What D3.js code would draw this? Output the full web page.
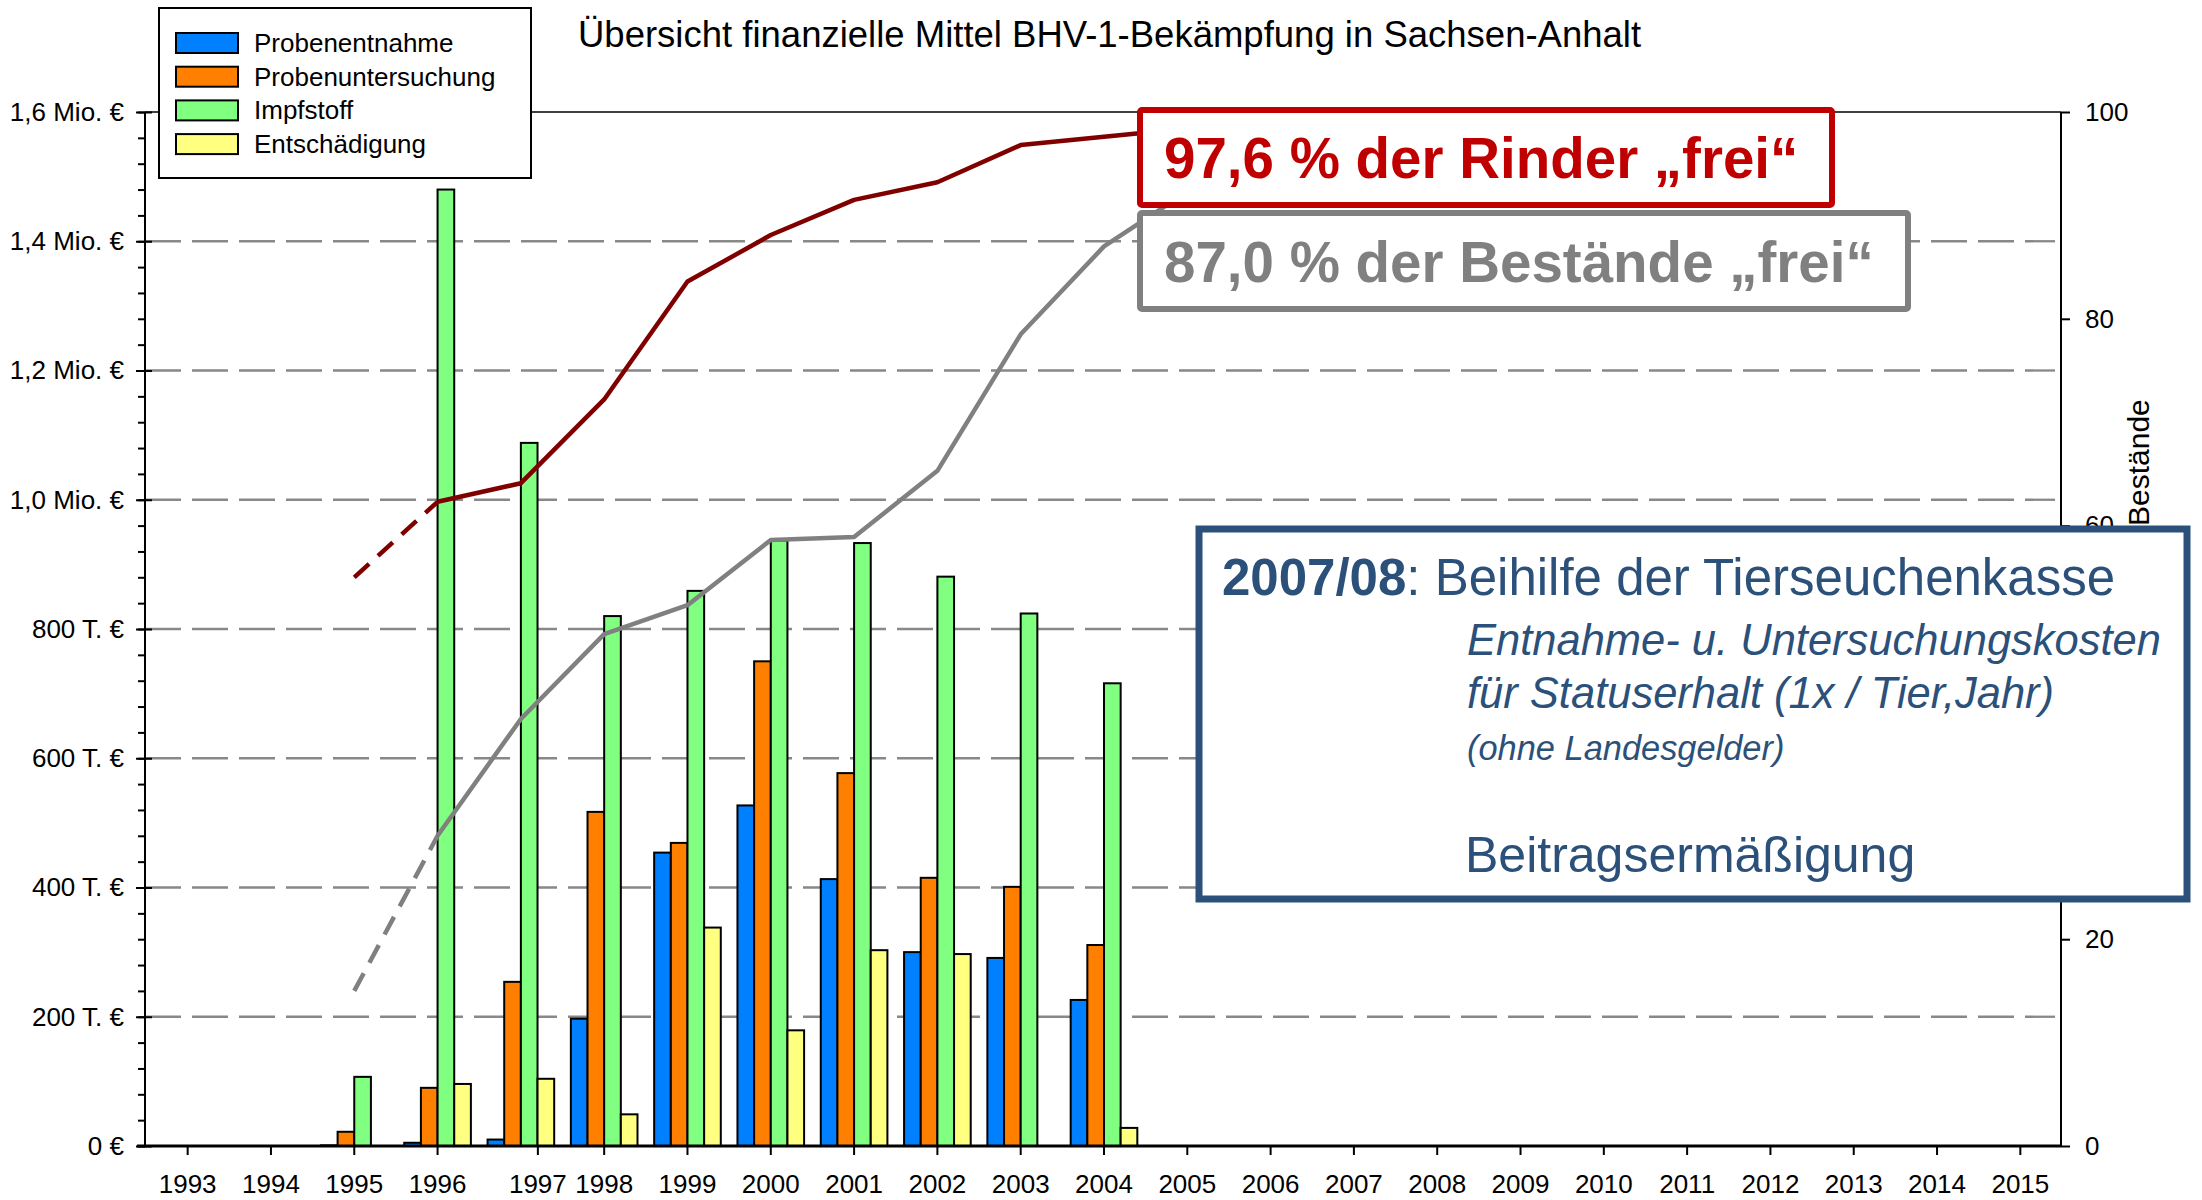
<!DOCTYPE html>
<html>
<head>
<meta charset="utf-8">
<script src="https://cdn.jsdelivr.net/npm/d3@7"></script>
<style>
  html, body { margin: 0; padding: 0; background: #fff; }
  svg { display: block; font-family: "Liberation Sans", Arial, Helvetica, sans-serif; }
</style>
</head>
<body>
<svg id="chart" width="2202" height="1200"></svg>
<script>
// categories
const years = ['1993','1994','1995','1996','1997','1998','1999','2000','2001','2002','2003','2004',
  '2005','2006','2007','2008','2009','2010','2011','2012','2013','2014','2015'];
const barYears = ['1993','1994','1995','1996','1997','1998','1999','2000','2001','2002','2003','2004'];

// costs in thousand euro
const probenentnahme    = [0, 0, 1, 5, 10, 197, 454, 527, 413, 300, 291, 226];
const probenuntersuchung = [0, 0, 22, 90, 254, 517, 469, 750, 577, 415, 401, 311];
const impfstoff         = [0, 0, 107, 1480, 1088, 820, 859, 937, 933, 881, 824, 716];
const entschaedigung    = [0, 0, 0, 96, 104, 49, 338, 179, 303, 297, 0, 28];

const seriesNames = ['Probenentnahme', 'Probenuntersuchung', 'Impfstoff', 'Entschädigung'];
const seriesColors = ['#0080ff', '#ff8000', '#80ff80', '#ffff80'];

// share of free animals / herds in percent
const lineYears = ['1995','1996','1997','1998','1999','2000','2001','2002','2003','2004','2005'];
const rinderFrei    = [55.0, 62.3, 64.1, 72.2, 83.6, 88.1, 91.5, 93.2, 96.8, 97.6, 98.4];
const bestaendeFrei = [15.0, 30.0, 41.3, 49.5, 52.3, 58.6, 58.9, 65.3, 78.5, 87.0, 92.3];

const leftTicks = [0, 200, 400, 600, 800, 1000, 1200, 1400, 1600];
const rightTicks = [0, 20, 40, 60, 80, 100];

const svg = d3.select('#chart');
const pLeft = 145, pRight = 2061, pTop = 112, pBottom = 1146;

const x = d3.scaleBand().domain(years).range([146, 2062]).padding(0);
const cx = d => x(d) + x.bandwidth() / 2 + (d === '1997' ? 17 : 0);
const yL = d3.scaleLinear().domain([0, 1600]).range([pBottom, pTop]);
const yR = d3.scaleLinear().domain([0, 100]).range([pBottom, pTop]);
const bw = x.bandwidth() / 5;

const fmtLeft = v => v === 0 ? '0 €' : v < 1000 ? v + ' T. €' : (v / 1000).toFixed(1).replace('.', ',') + ' Mio. €';

// grid
svg.append('g').selectAll('line')
  .data(leftTicks.filter(v => v > 0 && v < 1600))
  .join('line')
  .attr('x1', pLeft).attr('x2', pRight - 6)
  .attr('y1', d => yL(d)).attr('y2', d => yL(d))
  .attr('stroke', '#888').attr('stroke-width', 2.3)
  .attr('stroke-dasharray', '36,11');

svg.append('line')
  .attr('x1', pLeft).attr('x2', pRight).attr('y1', yL(1600)).attr('y2', yL(1600))
  .attr('stroke', '#000').attr('stroke-width', 1.6);

// bars
const barSeries = [probenentnahme, probenuntersuchung, impfstoff, entschaedigung];
barSeries.forEach((vals, k) => {
  svg.append('g').selectAll('rect')
    .data(barYears.map((yr, i) => ({ yr, v: vals[i] })).filter(d => d.v > 0))
    .join('rect')
    .attr('x', d => x(d.yr) + x.bandwidth() / 2 + (k - 2) * bw)
    .attr('width', bw)
    .attr('y', d => yL(d.v))
    .attr('height', d => yL(0) - yL(d.v))
    .attr('fill', seriesColors[k])
    .attr('stroke', '#000').attr('stroke-width', 2);
});

// axes
const styleAxis = g => {
  g.selectAll('text').attr('font-size', 26).attr('fill', '#000')
    .attr('font-family', '"Liberation Sans", Arial, sans-serif');
  g.selectAll('line').attr('stroke', '#000').attr('stroke-width', 2);
};

svg.append('g').attr('transform', `translate(${pLeft},0)`)
  .call(d3.axisLeft(yL).tickValues(d3.range(0, 1601, 40)).tickSize(7).tickFormat(''))
  .call(g => g.select('.domain').remove())
  .call(styleAxis);
svg.append('g').attr('transform', `translate(${pLeft},0)`)
  .call(d3.axisLeft(yL).tickValues(leftTicks).tickSize(9).tickPadding(12).tickFormat(fmtLeft))
  .call(g => g.select('.domain').remove())
  .call(styleAxis);
svg.append('g').attr('transform', `translate(${pLeft},0)`)
  .call(d3.axisRight(yL).tickValues(leftTicks).tickSize(7).tickFormat(''))
  .call(g => g.select('.domain').remove())
  .call(styleAxis);

svg.append('g').attr('transform', `translate(${pRight},0)`)
  .call(d3.axisRight(yR).tickValues(rightTicks).tickSize(9).tickPadding(15))
  .call(g => g.select('.domain').remove())
  .call(styleAxis);

const xAxis = svg.append('g').attr('transform', `translate(0,${pBottom})`)
  .call(d3.axisBottom(x).tickSize(9).tickPadding(20))
  .call(g => g.select('.domain').remove())
  .call(styleAxis);
xAxis.selectAll('.tick').attr('transform', d => `translate(${cx(d)},0)`);

svg.append('line').attr('x1', pLeft).attr('x2', pLeft).attr('y1', pTop).attr('y2', pBottom)
  .attr('stroke', '#000').attr('stroke-width', 2);
svg.append('line').attr('x1', pRight).attr('x2', pRight).attr('y1', pTop).attr('y2', pBottom)
  .attr('stroke', '#000').attr('stroke-width', 2);
svg.append('line').attr('x1', pLeft - 8).attr('x2', pRight).attr('y1', pBottom).attr('y2', pBottom)
  .attr('stroke', '#000').attr('stroke-width', 3);

// percentage lines, first segment dashed
const line = d3.line().x(d => x(d.yr) + x.bandwidth() / 2).y(d => yR(d.v));
[[rinderFrei, '#800000'], [bestaendeFrei, '#808080']].forEach(([vals, col]) => {
  const pts = lineYears.map((yr, i) => ({ yr, v: vals[i] }));
  svg.append('path').datum(pts.slice(0, 2)).attr('d', line)
    .attr('fill', 'none').attr('stroke', col).attr('stroke-width', 4.5)
    .attr('stroke-dasharray', '20,12');
  svg.append('path').datum(pts.slice(1)).attr('d', line)
    .attr('fill', 'none').attr('stroke', col).attr('stroke-width', 4.5)
    .attr('stroke-linejoin', 'round');
});

// title
svg.append('text').attr('x', 578).attr('y', 47).attr('font-size', 36.5)
  .text('Übersicht finanzielle Mittel BHV-1-Bekämpfung in Sachsen-Anhalt');

// legend
const legend = svg.append('g');
legend.append('rect').attr('x', 159).attr('y', 8).attr('width', 372).attr('height', 170)
  .attr('fill', '#fff').attr('stroke', '#000').attr('stroke-width', 2);
seriesNames.forEach((name, i) => {
  const yy = 33 + i * 33.7;
  legend.append('rect').attr('x', 176).attr('y', yy).attr('width', 62).attr('height', 20)
    .attr('fill', seriesColors[i]).attr('stroke', '#000').attr('stroke-width', 2);
  legend.append('text').attr('x', 254).attr('y', yy + 19).attr('font-size', 26).text(name);
});

// right axis label (partly hidden by the box)
svg.append('text').attr('transform', 'translate(2149,526) rotate(-90)')
  .attr('font-size', 30).text('Bestände');

// callouts
svg.append('rect').attr('x', 1140).attr('y', 110).attr('width', 692).attr('height', 95)
  .attr('fill', '#fff').attr('stroke', '#c00000').attr('stroke-width', 6).attr('rx', 2);
svg.append('text').attr('x', 1164).attr('y', 178).attr('font-size', 56.5).attr('font-weight', 'bold')
  .attr('fill', '#c00000').text('97,6 % der Rinder „frei“');

svg.append('rect').attr('x', 1140).attr('y', 213).attr('width', 768).attr('height', 96)
  .attr('fill', '#fff').attr('stroke', '#808080').attr('stroke-width', 6).attr('rx', 2);
svg.append('text').attr('x', 1164).attr('y', 282).attr('font-size', 56.5).attr('font-weight', 'bold')
  .attr('fill', '#808080').text('87,0 % der Bestände „frei“');

const blue = '#2b5079';
svg.append('rect').attr('x', 1199).attr('y', 529).attr('width', 988).attr('height', 370)
  .attr('fill', '#fff').attr('stroke', blue).attr('stroke-width', 7);
const t1 = svg.append('text').attr('x', 1222).attr('y', 595).attr('font-size', 51).attr('fill', blue);
t1.append('tspan').attr('font-weight', 'bold').text('2007/08');
t1.append('tspan').text(': Beihilfe der Tierseuchenkasse');
svg.append('text').attr('x', 1467).attr('y', 655).attr('font-size', 43.5).attr('font-style', 'italic')
  .attr('fill', blue).text('Entnahme- u. Untersuchungskosten');
svg.append('text').attr('x', 1467).attr('y', 708).attr('font-size', 43.5).attr('font-style', 'italic')
  .attr('fill', blue).text('für Statuserhalt (1x / Tier,Jahr)');
svg.append('text').attr('x', 1467).attr('y', 760).attr('font-size', 34.4).attr('font-style', 'italic')
  .attr('fill', blue).text('(ohne Landesgelder)');
svg.append('text').attr('x', 1465).attr('y', 872).attr('font-size', 50)
  .attr('fill', blue).text('Beitragsermäßigung');
</script>
</body>
</html>
